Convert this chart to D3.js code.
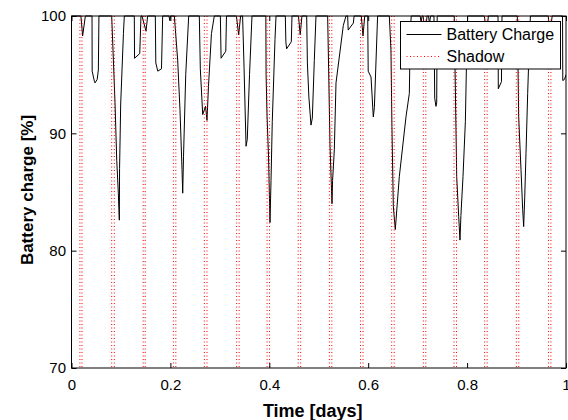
<!DOCTYPE html>
<html><head><meta charset="utf-8">
<script src="https://cdn.jsdelivr.net/npm/d3@7"></script>
<style>body{margin:0;background:#fff} svg{display:block}</style>
</head><body><svg id="c" width="568" height="420"></svg>
<script>
// ---- data ----
const timeDays = [0,0.019,0.0225,0.028,0.0415,0.0418,0.0465,0.0475,0.052,0.0543,0.0555,
0.0813,0.088,0.0915,0.0947,0.0967,0.0972,0.0995,0.105,0.1068,
0.127,0.1275,0.138,0.1405,0.1426,0.1507,0.154,0.1695,0.1705,0.1745,0.182,0.1844,
0.197,0.199,0.2,0.208,0.2147,0.2194,0.2235,0.2249,0.2265,0.231,0.237,
0.2585,0.2605,0.2653,0.271,0.274,0.277,0.283,0.2888,0.301,0.3025,0.312,0.3134,
0.3335,0.338,0.342,0.346,0.349,0.353,0.3555,0.36,0.365,
0.393,0.3935,0.3955,0.3985,0.4005,0.4014,0.4035,0.406,0.4115,0.4136,
0.4324,0.4335,0.435,0.4445,0.4459,0.459,0.4625,0.466,
0.4756,0.477,0.48,0.4843,0.487,0.491,0.4944,
0.518,0.52,0.5228,0.5268,0.528,0.5315,0.5349,0.5497,0.5551,
0.5585,0.5595,0.57,0.5715,0.586,0.5895,0.593,
0.599,0.6,0.6057,0.6103,0.6125,0.619,
0.6427,0.646,0.648,0.6508,0.6548,0.6629,0.6764,0.6832,0.6852,0.687,
0.705,0.707,0.709,0.711,0.7155,0.719,0.722,0.724,0.726,
0.733,0.7345,0.737,0.7385,0.7395,
0.774,0.779,0.783,0.7856,0.7875,0.7917,0.7965,0.7985,0.801,
0.835,0.8395,0.843,0.8625,0.8631,0.8695,0.8706,
0.9015,0.9043,0.909,0.9124,0.9144,0.9165,0.9191,0.9225,0.926,0.928,
0.964,0.968,0.972,0.993,0.9935,0.997,1];
const chargePct = [100,100,98.3,100,100,95.3,94.4,94.3,94.6,95.4,100,
100,92.6,87.7,84.9,82.6,87,92.5,98.5,100,
100,96.4,96.8,100,100,98.7,100,100,96,95.3,95.5,100,
100,99.6,100,100,96.25,92,86.9,84.9,88,95,100,
100,95.5,91.6,92.3,91.1,94,98.5,100,100,96.4,97,100,
100,98.4,100,100,95.5,88.9,89.5,95,100,
100,95,91.4,88,84,82.4,86,91,98,100,
100,97.8,97.2,97.8,100,100,98.4,100,
100,96,93.1,90.7,91.3,96.2,100,
100,95.5,88.9,84,86,88.6,94.3,99.2,100,
100,98.8,99.4,100,100,98.3,100,
100,95.3,94.8,91.4,92.2,100,
100,97.1,90.6,83.8,81.8,86.3,91.4,93.4,98.8,100,
100,99.5,100,100,98.4,100,100,99.3,100,
100,93,92.3,92.6,100,
100,86.3,82.9,80.9,83,86.3,91,95.4,100,
100,98.4,100,100,93.8,94.4,100,
100,91.4,86.9,83.5,82.05,84.5,88.3,93.4,98,100,
100,98.5,100,100,94.5,94.6,95];
const shadowStart = [0.017,0.0813,0.145,0.206,0.2686,0.334,0.3955,0.4585,0.5215,0.5845,0.6475,0.7115,0.7735,0.8355,0.8995,0.9645];
const shadowEnd   = [0.0212,0.0866,0.149,0.211,0.274,0.339,0.4005,0.4635,0.5265,0.5895,0.6525,0.7165,0.7785,0.8405,0.9045,0.9695];
const xTicks = [0,0.2,0.4,0.6,0.8,1];
const yTicks = [70,80,90,100];
const legendLabels = ["Battery Charge","Shadow"];
const xLabel = "Time [days]";
const yLabel = "Battery charge [%]";

// ---- layout ----
const L = 71.5, R = 566, T = 16, B = 368;
const svg = d3.select("#c");
const x = d3.scaleLinear().domain([0,1]).range([L,R]);
const y = d3.scaleLinear().domain([70,100]).range([B,T]);
const font = "'Liberation Sans', Arial, Helvetica, sans-serif";

svg.append("rect").attr("width",568).attr("height",420).attr("fill","#fff");

const clip = svg.append("clipPath").attr("id","pc").append("rect")
  .attr("x",L).attr("y",T-1).attr("width",R-L).attr("height",B-T+1);
const plot = svg.append("g").attr("clip-path","url(#pc)");

// battery line
const pts = timeDays.map((t,i)=>[t,chargePct[i]]);
plot.append("path").datum(pts)
  .attr("fill","none").attr("stroke","#000").attr("stroke-width",1)
  .attr("d", d3.line().x(d=>x(d[0])).y(d=>y(d[1])));

// shadow dotted lines
const sh = shadowStart.flatMap((s,i)=>[s, shadowEnd[i]]);
plot.selectAll("line.sh").data(sh).join("line").attr("class","sh")
  .attr("x1",d=>x(d)).attr("x2",d=>x(d)).attr("y1",y(100)).attr("y2",y(70))
  .attr("stroke","#ff0000").attr("stroke-width",1).attr("stroke-dasharray","1,2.5");

// axes
function styleAxis(g, showText){
  g.select(".domain").remove();
  g.selectAll(".tick line").attr("stroke","#000");
  g.selectAll("text").attr("fill","#000").style("font-family",font).style("font-size","15px");
  if(!showText) g.selectAll("text").remove();
}
svg.append("g").attr("transform",`translate(0,${B})`)
  .call(d3.axisBottom(x).tickValues(xTicks).tickSize(-5).tickPadding(11)
    .tickFormat(d=> (d===0||d===1)? String(d) : d3.format(".1f")(d)))
  .call(g=>styleAxis(g,true));
svg.append("g").attr("transform",`translate(0,${T})`)
  .call(d3.axisTop(x).tickValues(xTicks).tickSize(-5)).call(g=>styleAxis(g,false));
svg.append("g").attr("transform",`translate(${L},0)`)
  .call(d3.axisLeft(y).tickValues(yTicks).tickSize(-5).tickPadding(5.5))
  .call(g=>styleAxis(g,true));
svg.append("g").attr("transform",`translate(${R},0)`)
  .call(d3.axisRight(y).tickValues(yTicks).tickSize(-5)).call(g=>styleAxis(g,false));

svg.append("rect").attr("x",L).attr("y",T).attr("width",R-L).attr("height",B-T)
  .attr("fill","none").attr("stroke","#000").attr("stroke-width",1);

// axis labels
svg.append("text").attr("x",(L+R)/2 - 6).attr("y",417)
  .attr("text-anchor","middle").style("font-family",font).style("font-weight","bold")
  .style("font-size","18px").text(xLabel);
svg.append("text").attr("transform",`translate(33,${(T+B)/2 - 2}) rotate(-90)`)
  .attr("text-anchor","middle").style("font-family",font).style("font-weight","bold")
  .style("font-size","17px").text(yLabel);

// legend
const lg = svg.append("g");
lg.append("rect").attr("x",400.5).attr("y",21.5).attr("width",160).attr("height",47.5)
  .attr("fill","#fff").attr("stroke","#000").attr("stroke-width",1);
const rows = [{y:34, dash:null, col:"#000"},{y:56, dash:"1,2.5", col:"#ff0000"}];
rows.forEach((r,i)=>{
  lg.append("line").attr("x1",406.5).attr("x2",441.5).attr("y1",r.y+0.5).attr("y2",r.y+0.5)
    .attr("stroke",r.col).attr("stroke-width",1).attr("stroke-dasharray",r.dash);
  lg.append("text").attr("x",446.5).attr("y",r.y+5.5).style("font-family",font)
    .style("font-size","16px").attr("fill","#000").text(legendLabels[i]);
});
</script></body></html>
